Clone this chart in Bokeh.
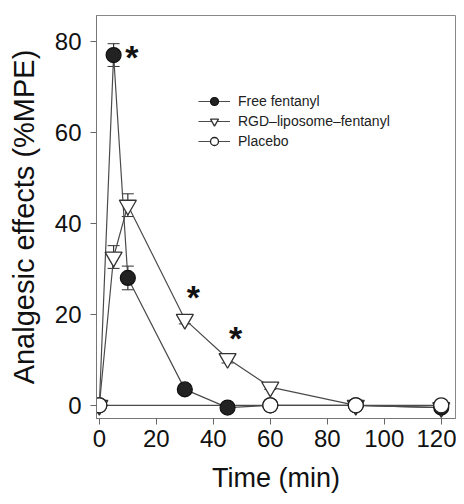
from bokeh.plotting import figure
from bokeh.models import ColumnDataSource, Whisker, Legend, LegendItem, FixedTicker, Range1d
from bokeh.core.properties import value
from bokeh.embed import file_html
from bokeh.resources import INLINE

time = [0, 5, 10, 30, 45, 60, 90, 120]
free = [0, 77, 28, 3.5, -0.5, 0, 0, -0.5]
free_err = [0, 2.5, 2.6, 0.5, 0.3, 0, 0, 0]
rgd = [0, 32.6, 44, 18.9, 10.3, 4, 0, -0.5]
rgd_err = [0, 2.5, 2.5, 1.0, 1.0, 0.5, 0, 0]
placebo_time = [0, 60, 90, 120]
placebo = [0, 0, 0, 0]
star_x = [11.4, 33, 47.8]
star_y = [77.4, 24.8, 15.6]
x_ticks = [0, 20, 40, 60, 80, 100, 120]
y_ticks = [0, 20, 40, 60, 80]

FONT = "Liberation Sans"

p = figure(width=456, height=496, output_backend="svg", toolbar_location=None,
           x_range=Range1d(-1, 125), y_range=Range1d(-2.9, 85.7),
           min_border_left=96, min_border_right=1, min_border_top=15, min_border_bottom=78)
p.xgrid.visible = False
p.ygrid.visible = False
p.outline_line_color = "#888888"
p.outline_line_width = 1
p.background_fill_color = "white"
p.border_fill_color = "white"

for ax, ticks in ((p.xaxis, x_ticks), (p.yaxis, y_ticks)):
    ax.ticker = FixedTicker(ticks=ticks)
    ax.minor_tick_line_color = None
    ax.major_tick_in = 0
    ax.major_tick_out = 6
    ax.major_tick_line_color = "#666666"
    ax.axis_line_color = "#777777"
    ax.major_label_text_font = FONT
    ax.major_label_text_font_size = "24px"
    ax.major_label_text_color = "#111111"
    ax.axis_label_text_font = FONT
    ax.axis_label_text_font_style = "normal"
    ax.axis_label_text_color = "#111111"

p.xaxis.axis_label = "Time (min)"
p.xaxis.axis_label_text_font_size = "27px"
p.xaxis.major_label_standoff = 5
p.xaxis.axis_label_standoff = 13
p.yaxis.axis_label = "Analgesic effects (%MPE)"
p.yaxis.axis_label_text_font_size = "29px"
p.yaxis.major_label_standoff = 9
p.yaxis.axis_label_standoff = 12

src_free = ColumnDataSource(dict(x=time, y=free,
                                 lo=[a - b for a, b in zip(free, free_err)],
                                 hi=[a + b for a, b in zip(free, free_err)]))
src_rgd = ColumnDataSource(dict(x=time, y=rgd,
                                lo=[a - b for a, b in zip(rgd, rgd_err)],
                                hi=[a + b for a, b in zip(rgd, rgd_err)]))
src_pl = ColumnDataSource(dict(x=placebo_time, y=placebo))

LC = "#4a4a4a"
for src in (src_rgd, src_free):
    w = Whisker(source=src, base="x", lower="lo", upper="hi", line_color="#333333",
                line_width=1.2)
    w.upper_head.size = 12
    w.lower_head.size = 12
    w.upper_head.line_color = "#333333"
    w.lower_head.line_color = "#333333"
    p.add_layout(w)

l_rgd = p.line("x", "y", source=src_rgd, line_color=LC, line_width=1.2)
l_free = p.line("x", "y", source=src_free, line_color=LC, line_width=1.2)
l_pl = p.line("x", "y", source=src_pl, line_color=LC, line_width=1.2)

m_rgd = p.scatter("x", "y", source=src_rgd, marker="inverted_triangle", size=17,
                  fill_color="white", line_color="#333333", line_width=1.3)
m_free = p.scatter("x", "y", source=src_free, marker="circle", size=15,
                   fill_color="#222222", line_color="#111111", line_width=1.2)
m_pl = p.scatter("x", "y", source=src_pl, marker="circle", size=15,
                 fill_color="white", line_color="#222222", line_width=1.3)

p.text(x=star_x, y=star_y, text=["*", "*", "*"], text_font=value(FONT),
       text_font_size="34px", text_font_style="bold", text_color="#111111",
       text_align="center", text_baseline="alphabetic", y_offset=4)

legend = Legend(items=[
    LegendItem(label="Free fentanyl", renderers=[l_free, m_free]),
    LegendItem(label="RGD\u2013liposome\u2013fentanyl", renderers=[l_rgd, m_rgd]),
    LegendItem(label="Placebo", renderers=[l_pl, m_pl]),
], location=(102, 267))
legend.border_line_color = None
legend.background_fill_alpha = 0
legend.padding = 0
legend.margin = 0
legend.spacing = 0
legend.glyph_width = 32
legend.glyph_height = 20
legend.label_height = 20
legend.label_standoff = 8
legend.label_text_font = FONT
legend.label_text_font_size = "14px"
legend.label_text_color = "#222222"
p.add_layout(legend)

open("out.html", "w").write(file_html(p, INLINE))
